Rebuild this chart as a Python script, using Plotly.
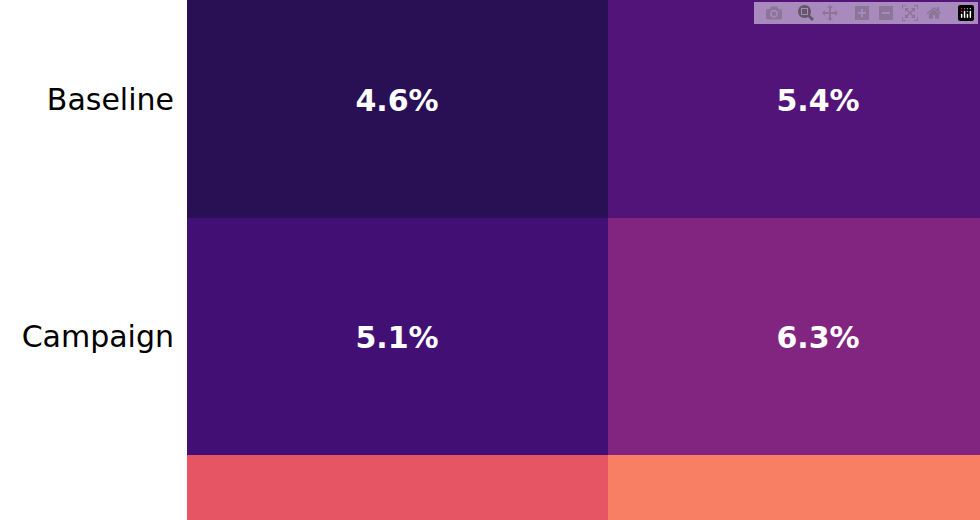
import plotly.graph_objects as go

rows = ["Baseline", "Campaign", "Peak"]
cols = ["Control", "Variant"]
rates = [
    [4.6, 5.4],
    [5.1, 6.3],
    [8.3, 9.1],
]
labels = [[f"{v:.1f}%" for v in r] for r in rates]

fig = go.Figure(go.Heatmap(
    z=rates, x=cols, y=rows,
    text=labels, texttemplate="<b>%{text}</b>",
    textfont=dict(family="DejaVu Sans", size=30, color="white"),
    colorscale="Magma", zmin=3.4, zmax=11.2,
    showscale=False, xgap=0, ygap=0,
))

fig.update_layout(
    width=980, height=520,
    margin=dict(l=187, r=0, t=0, b=0),
    font=dict(family="DejaVu Sans", size=30, color="black"),
    plot_bgcolor="white", paper_bgcolor="white",
    xaxis=dict(range=[-0.5, 1.384], showticklabels=False, showgrid=False, zeroline=False),
    yaxis=dict(range=[1.774, -0.42], showgrid=False, zeroline=False, ticks="", ticklabelstandoff=12),
)

fig.write_html("out.html", post_script="document.body.style.margin='0';")
